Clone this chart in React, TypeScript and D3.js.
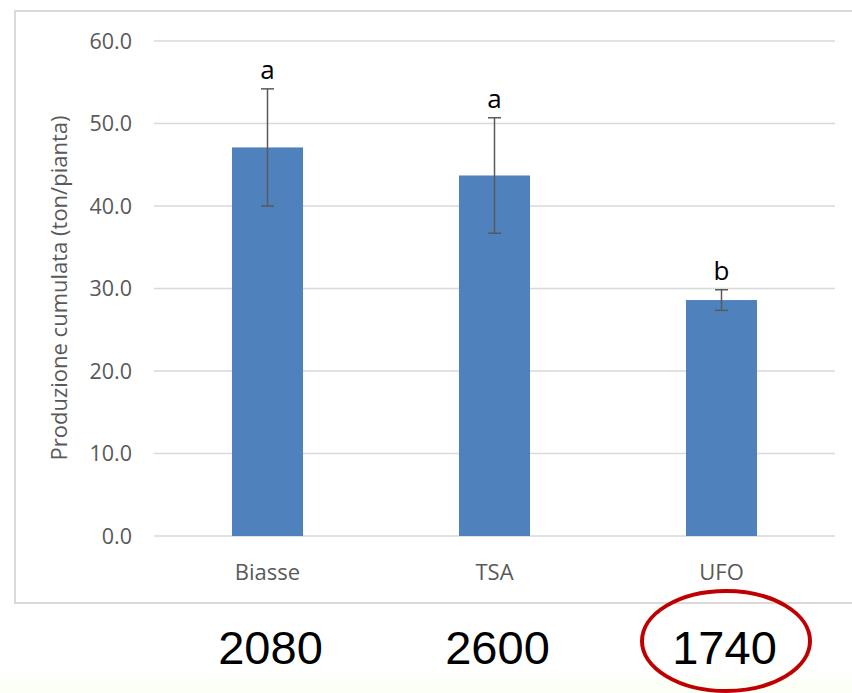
import { scaleBand, scaleLinear } from 'd3'

const categories = ['Biasse', 'TSA', 'UFO']
const production = [47.1, 43.7, 28.6]
const errors = [7.1, 7.0, 1.25]
const letters = ['a', 'a', 'b']
const plantCounts = ['2080', '2600', '1740']
const yTicks = [0, 10, 20, 30, 40, 50, 60]
const yTitle = 'Produzione cumulata (ton/pianta)'

const W = 852
const H = 693

export default function App() {
    const x = scaleBand()
        .domain(categories)
        .range([154, 835])
        .paddingInner(0.687)
        .paddingOuter(0.3435)

    const y = scaleLinear()
        .domain([0, 60])
        .range([536, 41])

    const gray = '#595959'
    const cx = (c: string) => (x(c) ?? 0) + x.bandwidth() / 2

    return (
        <svg width={W} height={H} style={{ position: 'absolute', left: 0, top: 0 }}>
            <rect x={0} y={0} width={W} height={H} fill='#ffffff' />
            <rect x={0} y={678} width={W} height={H - 678} fill='#fcfff5' />
            {/* chart box */}
            <rect x={15} y={11} width={W + 10} height={592} fill='#ffffff' stroke='#d9d9d9' strokeWidth={2} />

            {/* grid + tick labels */}
            {yTicks.map(t => (
                <g key={t}>
                    <line x1={154} x2={835} y1={y(t)} y2={y(t)} stroke='#d9d9d9' strokeWidth={1.3} />
                    <text x={132} y={y(t)} dy='0.36em' textAnchor='end'
                        fontFamily='Open Sans' fontSize={21.5} fill={gray}>
                        {t.toFixed(1)}
                    </text>
                </g>
            ))}

            <text transform={`translate(67,288) rotate(-90)`} textAnchor='middle'
                fontFamily='Open Sans' fontSize={22} fill={gray}>
                {yTitle}
            </text>

            {/* bars */}
            {categories.map((c, i) => (
                <rect key={c} x={x(c)} y={y(production[i])} width={x.bandwidth()}
                    height={y(0) - y(production[i])} fill='#4f81bd' />
            ))}

            {/* error bars */}
            {categories.map((c, i) => {
                const top = y(production[i] + errors[i])
                const bot = y(production[i] - errors[i])
                return (
                    <g key={c} stroke={gray} strokeWidth={1.5}>
                        <line x1={cx(c)} x2={cx(c)} y1={top} y2={bot} />
                        <line x1={cx(c) - 6.5} x2={cx(c) + 6.5} y1={top} y2={top} />
                        <line x1={cx(c) - 6.5} x2={cx(c) + 6.5} y1={bot} y2={bot} />
                    </g>
                )
            })}

            {/* significance letters */}
            {categories.map((c, i) => (
                <text key={c} x={cx(c)} y={y(production[i] + errors[i]) - 10} textAnchor='middle'
                    fontFamily='Open Sans' fontSize={26} fill='#000'>
                    {letters[i]}
                </text>
            ))}

            {/* category labels */}
            {categories.map(c => (
                <text key={c} x={cx(c)} y={580} textAnchor='middle'
                    fontFamily='Open Sans' fontSize={22} fill={gray}>
                    {c}
                </text>
            ))}

            {/* plant counts below */}
            {categories.map((c, i) => (
                <text key={c} x={cx(c) + 3} y={664} textAnchor='middle'
                    fontFamily='Liberation Sans' fontSize={47} fill='#000'>
                    {plantCounts[i]}
                </text>
            ))}

            <ellipse cx={726} cy={641} rx={84} ry={50} fill='none' stroke='#c00000' strokeWidth={4} />
        </svg>
    )
}
